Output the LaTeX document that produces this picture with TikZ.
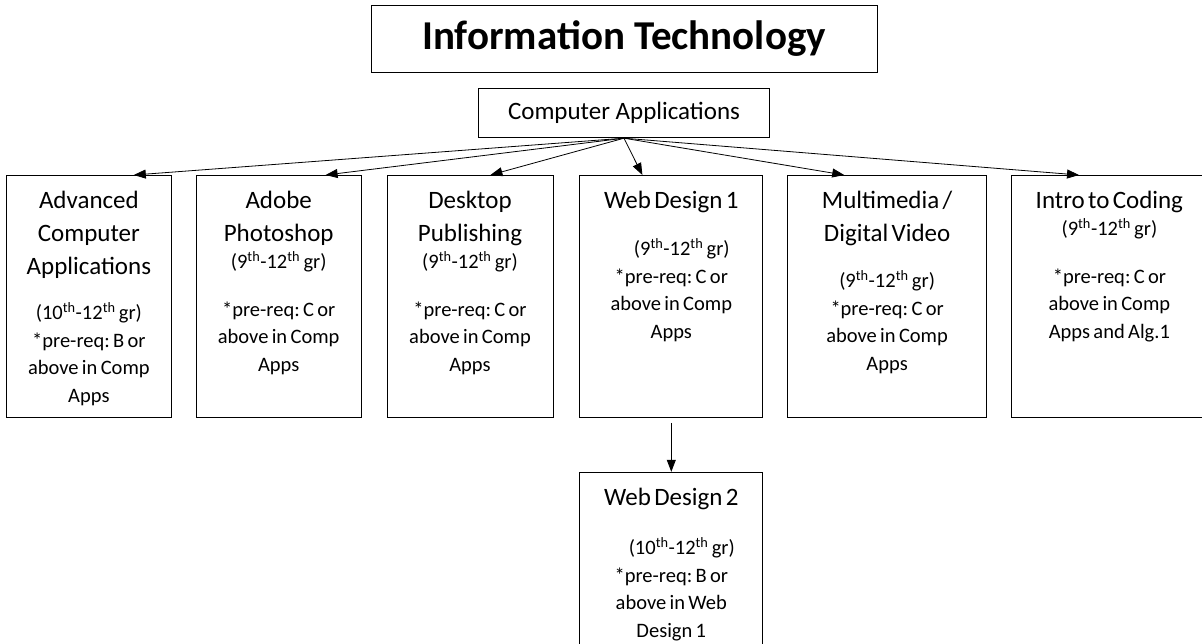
\documentclass[tikz,border=0pt]{standalone}
\usepackage{fontspec}
\setmainfont{Carlito}
\usetikzlibrary{arrows.meta,positioning}

\newcommand{\bigline}{\fontsize{25}{33}\selectfont}
\newcommand{\smallline}{\fontsize{20.5}{27.5}\selectfont}
\newcommand{\grade}[1]{(#1\textsuperscript{th}-12\textsuperscript{th} gr)}

\begin{document}
\begin{tikzpicture}[->,>={Triangle[length=12pt,width=9pt]},thick,x=1pt,y=1pt]
  \tikzstyle{course}=[draw=black,align=center,inner xsep=4pt,inner ysep=8pt,
    text height=25pt,text depth=201pt,anchor=north west,
    execute at begin node=\frenchspacing]
  \tikzstyle{title}=[draw=black,align=center]

  \useasboundingbox (0,0) rectangle (1202,-643);

  \node[title,minimum width=506pt,minimum height=67pt,
    font=\bfseries\fontsize{41}{48}\selectfont] (it) at (624,-38.5) {Information Technology};
  \node[title,minimum width=291pt,minimum height=49pt,
    font=\fontsize{25}{33}\selectfont] (ca) [below=16pt of it] {Computer Applications};

  \node[course,text width=157pt] (adv) at (6,-175)
    {\bigline Advanced\\Computer\\Applications\par
     \smallline\vspace{18pt}\grade{10}\\{}*pre-req: B or\\above in Comp\\Apps\par};
  \node[course,text width=157pt] (ps) [right=24pt of adv.north east,anchor=north west]
    {\bigline Adobe\\Photoshop\par
     \smallline\grade{9}\\[20pt]{}*pre-req: C or\\above in Comp\\Apps\par};
  \node[course,text width=158pt] (dtp) [right=25pt of ps.north east,anchor=north west]
    {\bigline Desktop\\Publishing\par
     \smallline\grade{9}\\[20pt]{}*pre-req: C or\\above in Comp\\Apps\par};
  \node[course,text width=175pt] (web1) [right=26pt of dtp.north east,anchor=north west]
    {\bigline Web Design 1\par
     \smallline\vspace{20pt}\hspace*{21pt}\grade{9}\\{}*pre-req: C or\\above in Comp\\Apps\par};
  \node[course,text width=191pt] (mm) [right=24pt of web1.north east,anchor=north west]
    {\bigline Multimedia /\\Digital Video\par
     \smallline\vspace{19pt}\grade{9}\\{}*pre-req: C or\\above in Comp\\Apps\par};
  \node[course,text width=188pt] (code) [right=24pt of mm.north east,anchor=north west]
    {\bigline Intro to Coding\par
     \smallline\grade{9}\\[20pt]{}*pre-req: C or\\above in Comp\\Apps and Alg.1\par};
  \node[course,text width=175pt,text depth=148pt] (web2) [below=54pt of web1.south west,anchor=north west]
    {\bigline Web Design 2\par
     \smallline\vspace{22pt}\hspace*{21pt}\grade{10}\\{}*pre-req: B or\\above in Web\\Design 1\par};

  \path
  (ca.south) edge ([xshift=-38pt]adv.north east)
             edge ([xshift=-36pt]ps.north east)
             edge ([xshift=-63pt]dtp.north east)
             edge ([xshift=63pt]web1.north west)
             edge ([xshift=57pt]mm.north west)
             edge ([xshift=68pt]code.north west)
  (web1) edge[shorten <=5pt] (web2);
\end{tikzpicture}
\end{document}
